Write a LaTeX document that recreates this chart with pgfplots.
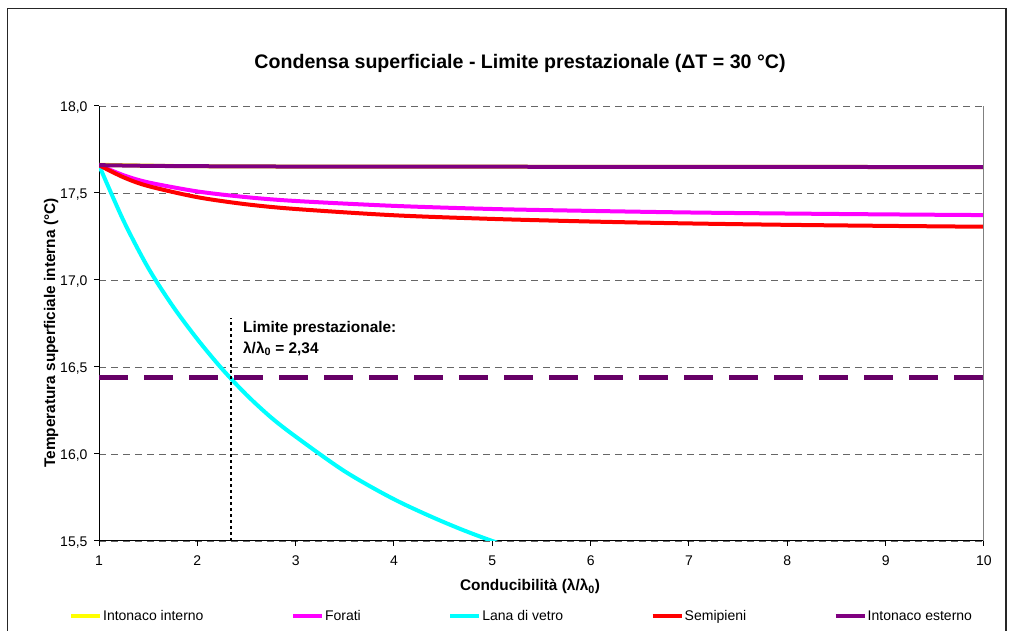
\documentclass[border=0pt]{standalone}
\usepackage{fontspec}
\setmainfont{Liberation Sans}
\usepackage{pgfplots}
\pgfplotsset{compat=1.18}

\definecolor{cYellow}{HTML}{FFFF00}
\definecolor{cMagenta}{HTML}{FF00FF}
\definecolor{cCyan}{HTML}{00FFFF}
\definecolor{cRed}{HTML}{FF0000}
\definecolor{cPurple}{HTML}{800080}
\definecolor{cLimit}{HTML}{660066}

\begin{document}
\begin{tikzpicture}
\path[use as bounding box] (0pt,0pt) rectangle (1010pt,631pt);
% chart frame
\draw[line width=1.2pt, black!85] (7.5pt,-10pt) -- (7.5pt,622.5pt) -- (1006pt,622.5pt) -- (1006pt,-10pt);
\node[anchor=base, font=\bfseries\fontsize{19.6}{22}\selectfont] at (520pt,562pt)
  {Condensa superficiale - Limite prestazionale (ΔT = 30 °C)};

\begin{axis}[
   at={(99pt,90pt)}, anchor=south west,
   scale only axis, width=885pt, height=435pt,
   xmin=1, xmax=10,
   ymin=15.5, ymax=18,
   xtick={1,...,10},
   ytick={15.5,16,...,18},
   axis x line*=bottom,
   axis y line*=left,
   axis line style={-, black, line width=1pt},
   tick align=outside,
   major tick length=5pt,
   tick style={black, line width=1pt},
   ymajorgrids,
   major grid style={dash pattern=on 7pt off 5pt, line width=0.9pt, black!60},
   /pgf/number format/assume math mode=true,
   tick label style={font=\fontsize{14}{16}\selectfont},
   xticklabel style={yshift=-6pt},
   yticklabel style={xshift=-3pt, yshift=-2pt,
                     /pgf/number format/.cd, fixed, fixed zerofill, precision=1, use comma},
   xlabel={Conducibilità (λ/λ\textsubscript{0})},
   xlabel style={at={(axis description cs:0.487,0)}, anchor=base, yshift=-50pt,
                 font=\bfseries\fontsize{15.4}{18}\selectfont},
   ylabel={Temperatura superficiale interna (°C)},
   ylabel style={at={(axis description cs:-0.0497,0.478)}, anchor=base,
                 font=\bfseries\fontsize{15.4}{18}\selectfont},
   legend columns=5,
   legend image code/.code={\draw[#1] (0pt,0pt) -- (29pt,0pt);},
   legend style={at={(-0.034,-0.1724)}, anchor=west, draw=none, fill=none,
                 inner sep=0pt, font=\fontsize{14}{16}\selectfont,
                 nodes={inner sep=0pt},
                 /tikz/every odd column/.append style={column sep=1pt},
                 /tikz/every even column/.append style={column sep=87.5pt}},
]

\addplot [cYellow, line width=4pt, smooth] coordinates {
   (1,17.662) (1.5,17.657) (2,17.654) (3,17.652) (5,17.651) (7,17.650) (10,17.649)
};
\addlegendentry{Intonaco interno}

\addplot [cMagenta, line width=4pt, smooth] coordinates {
   (1,17.660) (1.25,17.602) (1.5,17.561) (2,17.509) (2.5,17.476) (3,17.454)
   (4,17.426) (5,17.408) (6,17.397) (7,17.388) (8,17.382) (9,17.377) (10,17.373)
};
\addlegendentry{Forati}

\addplot [cCyan, line width=4pt, smooth] coordinates {
   (1,17.66) (1.25,17.34) (1.5,17.07) (1.75,16.85) (2,16.66) (2.25,16.49)
   (2.5,16.34) (2.75,16.21) (3,16.10) (3.5,15.90) (4,15.74) (4.5,15.61)
   (5,15.50) (6,15.31) (7,15.18) (8,15.07) (10,14.91)
};
\addlegendentry{Lana di vetro}

\addplot [cRed, line width=4pt, smooth] coordinates {
   (1,17.660) (1.25,17.590) (1.5,17.540) (2,17.476) (2.5,17.435) (3,17.408)
   (4,17.372) (5,17.351) (6,17.336) (7,17.325) (8,17.317) (9,17.311) (10,17.306)
};
\addlegendentry{Semipieni}

\addplot [cPurple, line width=4pt, smooth] coordinates {
   (1,17.660) (1.5,17.656) (2,17.654) (3,17.652) (5,17.651) (7,17.650) (10,17.649)
};
\addlegendentry{Intonaco esterno}

% limit line and marker
\addplot [forget plot, cLimit, line width=4.5pt, dash pattern=on 29pt off 16pt]
   coordinates {(1,16.44) (10,16.44)};
\addplot [forget plot, black, line width=2.5pt, dash pattern=on 3pt off 3pt]
   coordinates {(2.34,15.5) (2.34,16.78)};

\node[anchor=base west, inner sep=0pt, font=\bfseries\fontsize{15.4}{18}\selectfont]
   at (axis cs:2.464,16.701) {Limite prestazionale:};
\node[anchor=base west, inner sep=0pt, font=\bfseries\fontsize{15.4}{18}\selectfont]
   at (axis cs:2.464,16.580) {λ/λ\textsubscript{0} = 2,34};

\draw [black!50, line width=1pt] (rel axis cs:1,0) -- (rel axis cs:1,1);
\end{axis}
\end{tikzpicture}
\end{document}
